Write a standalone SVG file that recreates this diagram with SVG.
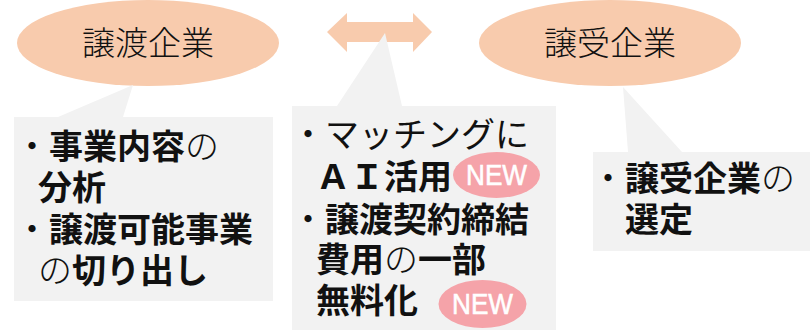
<svg xmlns="http://www.w3.org/2000/svg" width="810" height="331" viewBox="0 0 810 331">
<style>
.bg{fill:#FFFFFF}
.peach{fill:#F8CBAD}
.callout{fill:#F2F2F2}
.badge{fill:#F5A3A9}
.t{font-family:"Noto Sans CJK JP","Noto Sans CJK SC",sans-serif;font-size:34px;fill:#111111}
.b{font-weight:700}
.r{font-weight:400}
.lt{font-weight:300}
.head{font-family:"Noto Sans CJK JP","Noto Sans CJK SC",sans-serif;font-size:33px;font-weight:300;fill:#111111}
.new{font-family:"Liberation Sans",Arial,sans-serif;font-size:30px;fill:#FFFFFF;stroke:#FFFFFF;stroke-width:0.6}
</style>
<rect class="bg" x="0" y="0" width="810" height="331"/>
<g id="connectors">
<polygon class="peach" points="327,32 347,13 347,22 413,22 413,13 432,32 413,52 413,42 347,42 347,52"/>
</g>
<g id="node-transferor">
<ellipse class="peach" cx="148" cy="43" rx="131" ry="43"/>
<text class="head" x="148" y="55" text-anchor="middle">譲渡企業</text>
</g>
<g id="node-transferee">
<ellipse class="peach" cx="610" cy="43" rx="131" ry="43"/>
<text class="head" x="610" y="55" text-anchor="middle">譲受企業</text>
</g>
<g id="callout-left">
<path class="callout" d="M14,117 L58,117 L133,85 L123,117 L273,117 L273,301 L14,301 Z"/>
<text class="t" x="15" y="159"><tspan class="r">・</tspan><tspan class="b">事業内容</tspan><tspan class="lt">の</tspan></text>
<text class="t b" x="38" y="200">分析</text>
<text class="t" x="15" y="242"><tspan class="r">・</tspan><tspan class="b">譲渡可能事業</tspan></text>
<text class="t" x="38" y="283"><tspan class="lt">の</tspan><tspan class="b">切り出し</tspan></text>
</g>
<g id="callout-middle">
<path class="callout" d="M292,106 L337,106 L385,33 L402,106 L556,106 L556,330 L292,330 Z"/>
<text class="t r" x="291" y="147">・マッチングに</text>
<text class="t b" x="316" y="189">ＡＩ活用</text>
<text class="t" x="291" y="232"><tspan class="r">・</tspan><tspan class="b">譲渡契約締結</tspan></text>
<text class="t" x="316" y="272"><tspan class="b">費用</tspan><tspan class="lt">の</tspan><tspan class="b">一部</tspan></text>
<text class="t b" x="316" y="313">無料化</text>
<g id="badge-1">
<ellipse class="badge" cx="496.5" cy="175" rx="43.5" ry="23"/>
<text class="new" x="466" y="185" textLength="61" lengthAdjust="spacingAndGlyphs">NEW</text>
</g>
<g id="badge-2">
<ellipse class="badge" cx="482.5" cy="304" rx="44" ry="24"/>
<text class="new" x="452" y="314" textLength="61" lengthAdjust="spacingAndGlyphs">NEW</text>
</g>
</g>
<g id="callout-right">
<path class="callout" d="M593,152 L628,152 L623,87 L682,152 L810,152 L810,251 L593,251 Z"/>
<text class="t" x="591" y="191"><tspan class="r">・</tspan><tspan class="b">譲受企業</tspan><tspan class="lt">の</tspan></text>
<text class="t b" x="625" y="232">選定</text>
</g>
</svg>
